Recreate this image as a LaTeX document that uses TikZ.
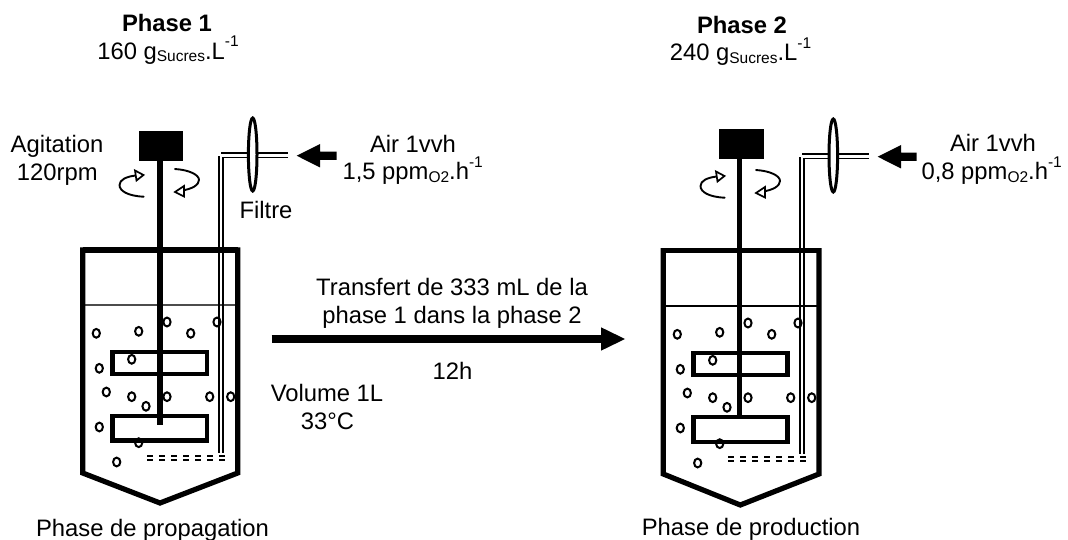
\documentclass[tikz,border=0pt]{standalone}
\usepackage{fontspec}
\setmainfont{Liberation Sans}
\newcommand{\sbs}[1]{\raisebox{-2.4pt}{\fontsize{15.5}{16}\selectfont #1}}
\newcommand{\sps}[1]{\raisebox{12.5pt}{\fontsize{15.5}{16}\selectfont #1}}
\newcommand{\bubbles}{%
 \foreach \bx/\by in {96.3/333.3,138.7/331.3,167/322,190.7/333.3,217/322,99.3/368.3,131.7/359.3,106.3/392,131.7/396.7,146/406.3,167/396.7,209.7/396.7,230.7/396.7,99.3/427,138.7/442.7,116.7/462}
   \draw[bubble] (\bx,\by) ellipse (3.6 and 4.4);}
\newcommand{\swirl}{%
 \draw[swirlline] (143.7,196.7) .. controls (128,196) and (119.5,191) .. (119.5,185) .. controls (119.5,180) and (126,176.5) .. (136,175.5);
 \draw[openhead] (143.5,175) -- (135,170.5) -- (136.5,180.5) -- cycle;
 \draw[swirlline] (175,169) .. controls (190,170) and (199,175) .. (199,180) .. controls (199,185) and (192,189) .. (182,190.5);
 \draw[openhead] (175,192) -- (184,186) -- (184,196.5) -- cycle;}
\begin{document}
\begin{tikzpicture}[x=1pt,y=-1pt,
  wall/.style={line width=5.2pt,line join=miter},
  tube/.style={line width=1.7pt},
  bubble/.style={line width=2pt,fill=none},
  swirlline/.style={line width=1.9pt,line cap=round},
  openhead/.style={line width=1.7pt,fill=white,line join=miter},
  imp/.style={line width=4.8pt,fill=none},
  sparge/.style={line width=1.8pt,dash pattern=on 5.5pt off 6.5pt},
  filt/.style={line width=3pt,fill=white},
  air/.style={fill=black,draw=none},
  lab/.style={font=\fontsize{23.8}{26}\selectfont,inner sep=0pt,anchor=base}]
\useasboundingbox (0,0) rectangle (1068,540);
% LEFT
\bubbles
\draw[line width=1.7pt,black!70] (83,304.7) -- (238,304.7);
\draw[wall] (82.7,250) -- (237.7,250);
\draw[wall] (82.7,247.4) -- (82.7,473) -- (160,503) -- (237.7,473) -- (237.7,247.4);
\draw[imp] (112.7,352) rectangle (207,374);
\draw[imp] (112.7,416) rectangle (207,440.7);
\fill[black] (138.5,131.5) rectangle (182.5,161.3);
\draw[line width=5.4pt] (160,161) -- (160,425);
\swirl
\draw[tube] (219.3,156.5) -- (219.3,453);
\draw[tube] (288,157.5) -- (223,157.5) -- (223,453);
\draw[tube] (221,153.3) -- (288,153.3);
\draw[sparge] (224.5,455.7) -- (147,455.7);
\draw[sparge] (224.5,460.3) -- (147,460.3);
\draw[filt] (252.7,154.5) ellipse (4.3 and 36.5);
\fill[air] (296.7,155.7) -- (320,144) -- (320,151.6) -- (336.5,151.6) -- (336.5,159.8) -- (320,159.8) -- (320,167.5) -- cycle;
% RIGHT
\begin{scope}[shift={(581,1)}]
\bubbles
\draw[line width=1.7pt] (83,305) -- (238,305);
\draw[wall] (82.3,249.7) -- (238,249.7);
\draw[wall] (82.3,247.1) -- (82.3,473) -- (159.3,504) -- (238,473) -- (238,247.1);
\draw[imp] (112.3,352) rectangle (206.3,374);
\draw[imp] (112.3,416) rectangle (206.3,441);
\fill[black] (138.3,128) rectangle (182.7,158);
\draw[line width=4.8pt] (158.7,158) -- (158.7,416);
\swirl
\draw[tube] (219.3,156.5) -- (219.3,453);
\draw[tube] (288,157.5) -- (223,157.5) -- (223,453);
\draw[tube] (221,153.3) -- (288,153.3);
\draw[sparge] (224.5,455.7) -- (147,455.7);
\draw[sparge] (224.5,460.3) -- (147,460.3);
\draw[filt] (252.3,154.5) ellipse (4.3 and 36.5);
\fill[air] (296.7,155.7) -- (320,144) -- (320,151.6) -- (335.7,151.6) -- (335.7,159.8) -- (320,159.8) -- (320,167.5) -- cycle;
\end{scope}
% TRANSFER
\coordinate (tstart) at (271.7,339);
\coordinate (tbase) at (603,339);
\draw[line width=7.7pt] (tstart) -- (tbase);
\fill[air] (625,339) -- (601,327.3) -- (601,350.7) -- cycle;
% TEXT
\node[lab] (p1) at (167,31.7) {\bfseries Phase 1};
\node[lab] (c1) at (168,59.3) {160 g\sbs{Sucres}.L\sps{-1}};
\node[lab] (p2) at (742,33.3) {\bfseries Phase 2};
\node[lab] (c2) at (740.5,60.7) {240 g\sbs{Sucres}.L\sps{-1}};
\node[lab] (ag) at (57,152.7) {Agitation};
\node[lab] (rp) at (57.3,180.7) {120rpm};
\node[lab] (fi) at (266,218.3) {Filtre};
\node[lab] (a1) at (413,152.7) {Air 1vvh};
\node[lab] (a1b) at (412.7,180) {1,5 ppm\sbs{O2}.h\sps{-1}};
\node[lab] (a2) at (993,151.7) {Air 1vvh};
\node[lab] (a2b) at (991.7,180) {0,8 ppm\sbs{O2}.h\sps{-1}};
\node[lab] (tr) at (452,295.7) {Transfert de 333 mL de la};
\node[lab] (tr2) at (452,323.3) {phase 1 dans la phase 2};
\node[lab] (h) at (452.5,379) {12h};
\node[lab] (v) at (327,401.7) {Volume 1L};
\node[lab] (v2) at (327.5,429) {33°C};
\node[lab] (n1) at (152.5,536) {Phase de propagation};
\node[lab] (n2) at (751,535) {Phase de production};
\end{tikzpicture}
\end{document}
